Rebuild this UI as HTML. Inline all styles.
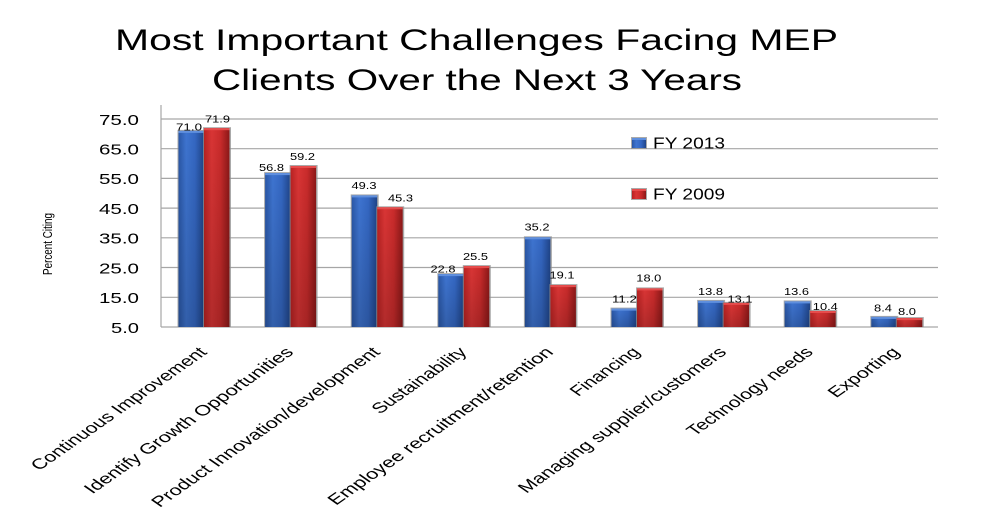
<!DOCTYPE html>
<html><head><meta charset="utf-8"><style>
html,body{margin:0;padding:0;background:#fff;}
svg{display:block;}
text{font-family:"Liberation Sans",Arial,sans-serif;fill:#000;}
</style></head><body>
<svg width="982" height="520" viewBox="0 0 982 520" xmlns="http://www.w3.org/2000/svg">
<defs>
<linearGradient id="bh" x1="0" y1="0" x2="1" y2="0">
<stop offset="0" stop-color="#2a57a6"/><stop offset="0.3" stop-color="#3e74d0"/><stop offset="0.65" stop-color="#3467c2"/><stop offset="1" stop-color="#1f4488"/>
</linearGradient>
<linearGradient id="rh" x1="0" y1="0" x2="1" y2="0">
<stop offset="0" stop-color="#b82222"/><stop offset="0.3" stop-color="#d93535"/><stop offset="0.65" stop-color="#c92b2b"/><stop offset="1" stop-color="#8c1818"/>
</linearGradient>
<linearGradient id="vd" x1="0" y1="0" x2="0" y2="1">
<stop offset="0" stop-color="#000" stop-opacity="0"/><stop offset="1" stop-color="#000" stop-opacity="0.18"/>
</linearGradient>
</defs>

<!-- Title -->
<text x="115" y="50" font-size="30" textLength="723" lengthAdjust="spacingAndGlyphs">Most Important Challenges Facing MEP</text>
<text x="212" y="90" font-size="30" textLength="530" lengthAdjust="spacingAndGlyphs">Clients Over the Next 3 Years</text>

<!-- gridlines -->
<g stroke="#a6a6a6" stroke-width="1.2">
<line x1="161" y1="119" x2="938" y2="119"/>
<line x1="161" y1="148.7" x2="938" y2="148.7"/>
<line x1="161" y1="178.4" x2="938" y2="178.4"/>
<line x1="161" y1="208.1" x2="938" y2="208.1"/>
<line x1="161" y1="237.8" x2="938" y2="237.8"/>
<line x1="161" y1="267.5" x2="938" y2="267.5"/>
<line x1="161" y1="297.3" x2="938" y2="297.3"/>
<line x1="161" y1="327" x2="938" y2="327"/>
<line x1="161" y1="105" x2="161" y2="327"/>
</g>

<!-- y tick labels -->
<g font-size="15" text-anchor="end">
<text x="139" y="125" textLength="40" lengthAdjust="spacingAndGlyphs">75.0</text>
<text x="139" y="154.5" textLength="40" lengthAdjust="spacingAndGlyphs">65.0</text>
<text x="139" y="184.2" textLength="40" lengthAdjust="spacingAndGlyphs">55.0</text>
<text x="139" y="213.9" textLength="40" lengthAdjust="spacingAndGlyphs">45.0</text>
<text x="139" y="243.6" textLength="40" lengthAdjust="spacingAndGlyphs">35.0</text>
<text x="139" y="273.3" textLength="40" lengthAdjust="spacingAndGlyphs">25.0</text>
<text x="139" y="303.1" textLength="40" lengthAdjust="spacingAndGlyphs">15.0</text>
<text x="139" y="332.8" textLength="28" lengthAdjust="spacingAndGlyphs">5.0</text>
</g>

<!-- axis title -->
<text transform="translate(52,244) scale(1.3,1) rotate(-90)" font-size="10" text-anchor="middle" textLength="62" lengthAdjust="spacingAndGlyphs">Percent Citing</text>

<!-- bars -->
<g id="bars">
<g>
<rect x="177.5" y="129.9" width="28" height="197.1" fill="#8e8e8e" opacity="0.75"/>
<rect x="178.5" y="130.9" width="25.5" height="196.1" fill="url(#bh)"/>
<rect x="178.5" y="130.9" width="25.5" height="196.1" fill="url(#vd)"/>
<rect x="178.5" y="130.9" width="25.5" height="2" fill="#5f8fde"/>
<rect x="203" y="127.2" width="28" height="199.8" fill="#8e8e8e" opacity="0.75"/>
<rect x="204" y="128.2" width="25.5" height="198.8" fill="url(#rh)"/>
<rect x="204" y="128.2" width="25.5" height="198.8" fill="url(#vd)"/>
<rect x="204" y="128.2" width="25.5" height="2" fill="#e64c4c"/>
</g>
<g>
<rect x="264.1" y="172.1" width="28" height="154.9" fill="#8e8e8e" opacity="0.75"/>
<rect x="265.1" y="173.1" width="25.5" height="153.9" fill="url(#bh)"/>
<rect x="265.1" y="173.1" width="25.5" height="153.9" fill="url(#vd)"/>
<rect x="265.1" y="173.1" width="25.5" height="2" fill="#5f8fde"/>
<rect x="289.6" y="165" width="28" height="162" fill="#8e8e8e" opacity="0.75"/>
<rect x="290.6" y="166" width="25.5" height="161" fill="url(#rh)"/>
<rect x="290.6" y="166" width="25.5" height="161" fill="url(#vd)"/>
<rect x="290.6" y="166" width="25.5" height="2" fill="#e64c4c"/>
</g>
<g>
<rect x="350.7" y="194.4" width="28" height="132.6" fill="#8e8e8e" opacity="0.75"/>
<rect x="351.7" y="195.4" width="25.5" height="131.6" fill="url(#bh)"/>
<rect x="351.7" y="195.4" width="25.5" height="131.6" fill="url(#vd)"/>
<rect x="351.7" y="195.4" width="25.5" height="2" fill="#5f8fde"/>
<rect x="376.2" y="206.3" width="28" height="120.7" fill="#8e8e8e" opacity="0.75"/>
<rect x="377.2" y="207.3" width="25.5" height="119.7" fill="url(#rh)"/>
<rect x="377.2" y="207.3" width="25.5" height="119.7" fill="url(#vd)"/>
<rect x="377.2" y="207.3" width="25.5" height="2" fill="#e64c4c"/>
</g>
<g>
<rect x="437.3" y="273.1" width="28" height="53.9" fill="#8e8e8e" opacity="0.75"/>
<rect x="438.3" y="274.1" width="25.5" height="52.9" fill="url(#bh)"/>
<rect x="438.3" y="274.1" width="25.5" height="52.9" fill="url(#vd)"/>
<rect x="438.3" y="274.1" width="25.5" height="2" fill="#5f8fde"/>
<rect x="462.8" y="265.1" width="28" height="61.9" fill="#8e8e8e" opacity="0.75"/>
<rect x="463.8" y="266.1" width="25.5" height="60.9" fill="url(#rh)"/>
<rect x="463.8" y="266.1" width="25.5" height="60.9" fill="url(#vd)"/>
<rect x="463.8" y="266.1" width="25.5" height="2" fill="#e64c4c"/>
</g>
<g>
<rect x="523.9" y="236.3" width="28" height="90.7" fill="#8e8e8e" opacity="0.75"/>
<rect x="524.9" y="237.3" width="25.5" height="89.7" fill="url(#bh)"/>
<rect x="524.9" y="237.3" width="25.5" height="89.7" fill="url(#vd)"/>
<rect x="524.9" y="237.3" width="25.5" height="2" fill="#5f8fde"/>
<rect x="549.4" y="284.1" width="28" height="42.9" fill="#8e8e8e" opacity="0.75"/>
<rect x="550.4" y="285.1" width="25.5" height="41.9" fill="url(#rh)"/>
<rect x="550.4" y="285.1" width="25.5" height="41.9" fill="url(#vd)"/>
<rect x="550.4" y="285.1" width="25.5" height="2" fill="#e64c4c"/>
</g>
<g>
<rect x="610.5" y="307.6" width="28" height="19.4" fill="#8e8e8e" opacity="0.75"/>
<rect x="611.5" y="308.6" width="25.5" height="18.4" fill="url(#bh)"/>
<rect x="611.5" y="308.6" width="25.5" height="18.4" fill="url(#vd)"/>
<rect x="611.5" y="308.6" width="25.5" height="2" fill="#5f8fde"/>
<rect x="636" y="287.4" width="28" height="39.6" fill="#8e8e8e" opacity="0.75"/>
<rect x="637" y="288.4" width="25.5" height="38.6" fill="url(#rh)"/>
<rect x="637" y="288.4" width="25.5" height="38.6" fill="url(#vd)"/>
<rect x="637" y="288.4" width="25.5" height="2" fill="#e64c4c"/>
</g>
<g>
<rect x="697.1" y="299.9" width="28" height="27.1" fill="#8e8e8e" opacity="0.75"/>
<rect x="698.1" y="300.9" width="25.5" height="26.1" fill="url(#bh)"/>
<rect x="698.1" y="300.9" width="25.5" height="26.1" fill="url(#vd)"/>
<rect x="698.1" y="300.9" width="25.5" height="2" fill="#5f8fde"/>
<rect x="722.6" y="301.9" width="28" height="25.1" fill="#8e8e8e" opacity="0.75"/>
<rect x="723.6" y="302.9" width="25.5" height="24.1" fill="url(#rh)"/>
<rect x="723.6" y="302.9" width="25.5" height="24.1" fill="url(#vd)"/>
<rect x="723.6" y="302.9" width="25.5" height="2" fill="#e64c4c"/>
</g>
<g>
<rect x="783.7" y="300.4" width="28" height="26.6" fill="#8e8e8e" opacity="0.75"/>
<rect x="784.7" y="301.4" width="25.5" height="25.6" fill="url(#bh)"/>
<rect x="784.7" y="301.4" width="25.5" height="25.6" fill="url(#vd)"/>
<rect x="784.7" y="301.4" width="25.5" height="2" fill="#5f8fde"/>
<rect x="809.2" y="310" width="28" height="17" fill="#8e8e8e" opacity="0.75"/>
<rect x="810.2" y="311" width="25.5" height="16" fill="url(#rh)"/>
<rect x="810.2" y="311" width="25.5" height="16" fill="url(#vd)"/>
<rect x="810.2" y="311" width="25.5" height="2" fill="#e64c4c"/>
</g>
<g>
<rect x="870.3" y="315.9" width="28" height="11.1" fill="#8e8e8e" opacity="0.75"/>
<rect x="871.3" y="316.9" width="25.5" height="10.1" fill="url(#bh)"/>
<rect x="871.3" y="316.9" width="25.5" height="10.1" fill="url(#vd)"/>
<rect x="871.3" y="316.9" width="25.5" height="2" fill="#5f8fde"/>
<rect x="895.8" y="317.1" width="28" height="9.9" fill="#8e8e8e" opacity="0.75"/>
<rect x="896.8" y="318.1" width="25.5" height="8.9" fill="url(#rh)"/>
<rect x="896.8" y="318.1" width="25.5" height="8.9" fill="url(#vd)"/>
<rect x="896.8" y="318.1" width="25.5" height="2" fill="#e64c4c"/>
</g>
</g>

<!-- value labels -->
<g font-size="10" text-anchor="middle">
<text x="189" y="130.5" textLength="26" lengthAdjust="spacingAndGlyphs">71.0</text>
<text x="217.5" y="122.7" textLength="25" lengthAdjust="spacingAndGlyphs">71.9</text>
<text x="271.5" y="171" textLength="25" lengthAdjust="spacingAndGlyphs">56.8</text>
<text x="302.5" y="160" textLength="25" lengthAdjust="spacingAndGlyphs">59.2</text>
<text x="364" y="189" textLength="25" lengthAdjust="spacingAndGlyphs">49.3</text>
<text x="400.5" y="201.7" textLength="25" lengthAdjust="spacingAndGlyphs">45.3</text>
<text x="443" y="272.7" textLength="25" lengthAdjust="spacingAndGlyphs">22.8</text>
<text x="475.5" y="260" textLength="25" lengthAdjust="spacingAndGlyphs">25.5</text>
<text x="537" y="230.5" textLength="25" lengthAdjust="spacingAndGlyphs">35.2</text>
<text x="562" y="278.3" textLength="25" lengthAdjust="spacingAndGlyphs">19.1</text>
<text x="624.5" y="302.3" textLength="25" lengthAdjust="spacingAndGlyphs">11.2</text>
<text x="648.8" y="281.7" textLength="25" lengthAdjust="spacingAndGlyphs">18.0</text>
<text x="710.5" y="295" textLength="25" lengthAdjust="spacingAndGlyphs">13.8</text>
<text x="740" y="302.3" textLength="25" lengthAdjust="spacingAndGlyphs">13.1</text>
<text x="796.5" y="295" textLength="25" lengthAdjust="spacingAndGlyphs">13.6</text>
<text x="825.3" y="310" textLength="25" lengthAdjust="spacingAndGlyphs">10.4</text>
<text x="883" y="311.7" textLength="18" lengthAdjust="spacingAndGlyphs">8.4</text>
<text x="907" y="315" textLength="18" lengthAdjust="spacingAndGlyphs">8.0</text>
</g>

<!-- legend -->
<rect x="631" y="137" width="16" height="12" fill="#8e8e8e" opacity="0.75"/>
<rect x="632" y="138" width="14" height="10" fill="url(#bh)"/>
<rect x="632" y="138" width="14" height="2" fill="#5f8fde"/>
<text x="653" y="148.5" font-size="16" textLength="72" lengthAdjust="spacingAndGlyphs">FY 2013</text>
<rect x="631" y="188" width="16" height="12" fill="#8e8e8e" opacity="0.75"/>
<rect x="632" y="189" width="14" height="10" fill="url(#rh)"/>
<rect x="632" y="189" width="14" height="2" fill="#e64c4c"/>
<text x="653" y="199.5" font-size="16" textLength="72" lengthAdjust="spacingAndGlyphs">FY 2009</text>

<!-- category labels -->
<g font-size="14.5" text-anchor="end">
<text transform="translate(208,353) scale(1.43,1) rotate(-45)" textLength="167" lengthAdjust="spacingAndGlyphs">Continuous Improvement</text>
<text transform="translate(294.6,353) scale(1.43,1) rotate(-45)" textLength="200" lengthAdjust="spacingAndGlyphs">Identify Growth Opportunities</text>
<text transform="translate(381.2,353) scale(1.43,1) rotate(-45)" textLength="219" lengthAdjust="spacingAndGlyphs">Product Innovation/development</text>
<text transform="translate(467.8,353) scale(1.43,1) rotate(-45)" textLength="87" lengthAdjust="spacingAndGlyphs">Sustainability</text>
<text transform="translate(554.4,353) scale(1.43,1) rotate(-45)" textLength="216" lengthAdjust="spacingAndGlyphs">Employee recruitment/retention</text>
<text transform="translate(641,353) scale(1.43,1) rotate(-45)" textLength="62" lengthAdjust="spacingAndGlyphs">Financing</text>
<text transform="translate(727.6,353) scale(1.43,1) rotate(-45)" textLength="199" lengthAdjust="spacingAndGlyphs">Managing supplier/customers</text>
<text transform="translate(814.2,353) scale(1.43,1) rotate(-45)" textLength="118" lengthAdjust="spacingAndGlyphs">Technology needs</text>
<text transform="translate(900.8,353) scale(1.43,1) rotate(-45)" textLength="64" lengthAdjust="spacingAndGlyphs">Exporting</text>
</g>
</svg>
</body></html>
